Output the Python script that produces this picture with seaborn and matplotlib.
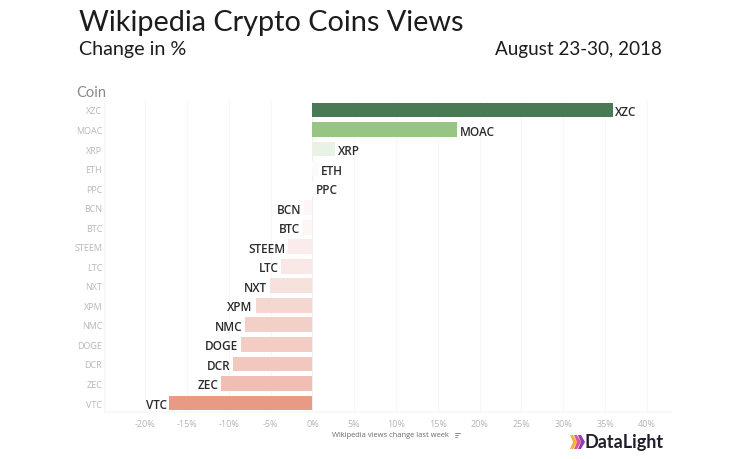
import matplotlib
matplotlib.use("Agg")
import matplotlib.pyplot as plt
from matplotlib.colors import LinearSegmentedColormap
from matplotlib.patches import Polygon
from matplotlib.lines import Line2D
import pandas as pd
import seaborn as sns

# Values
coins = ["XZC", "MOAC", "XRP", "ETH", "PPC", "BCN", "BTC", "STEEM",
         "LTC", "NXT", "XPM", "NMC", "DOGE", "DCR", "ZEC", "VTC"]
change = [35.9, 17.3, 2.7, 0.7, 0.1, -1.0, -1.1, -2.9,
          -3.7, -5.1, -6.8, -8.0, -8.5, -9.5, -10.9, -17.1]
x_ticks = list(range(-20, 45, 5))

df = pd.DataFrame({"coin": coins, "change": change})

sns.set_theme(style="white")
plt.rcParams["font.family"] = ["Lato", "DejaVu Sans"]
labels_font = ["Open Sans", "DejaVu Sans"]

# Diverging colour scale, red below zero and green above
low, high = -17.1, 35.9
def pos(v):
    return (v - low) / (high - low)

cmap = LinearSegmentedColormap.from_list("change", [
    (0.0, "#e89a85"),
    (pos(-10.9), "#f0bfb3"),
    (pos(-5.1), "#f7e2de"),
    (pos(-1.0), "#fdf6f5"),
    (pos(0), "#ffffff"),
    (pos(2.7), "#e8f2e4"),
    (pos(17.3), "#97c583"),
    (1.0, "#4a7a55"),
])
palette = {c: cmap(pos(v)) for c, v in zip(coins, change)}

fig = plt.figure(figsize=(7.36, 4.6), dpi=100)
ax = fig.add_axes([105 / 736, 1 - 413 / 460, (672 - 105) / 736, (413 - 102) / 460])

sns.barplot(data=df, x="change", y="coin", hue="coin", palette=palette,
            order=coins, legend=False, width=0.76, ax=ax, saturation=1, zorder=3,
            linewidth=0)

# Coin name at the end of each bar
for coin, value, y in zip(coins, change, range(len(coins))):
    ax.annotate(coin, (value, y), xytext=(2 if value >= 0 else -2, 0),
                textcoords="offset points", va="center_baseline",
                ha="left" if value >= 0 else "right",
                fontsize=8.5, color="#2b2b2b", zorder=4,
                family=labels_font, fontweight="semibold")

ax.set_xlim(-24.8, 43)
ax.set_ylim(15.46, -0.46)
ax.set_xticks(x_ticks)
ax.set_xticklabels([f"{t}%" for t in x_ticks])
ax.tick_params(axis="x", length=0, labelsize=6.5, labelcolor="#b4b4b4", pad=5)
ax.tick_params(axis="y", length=0, labelsize=6.5, labelcolor="#b8b8b8", pad=2)
for lab in ax.get_xticklabels() + ax.get_yticklabels():
    lab.set_family(labels_font)
ax.set_xlabel("")
ax.set_ylabel("")
ax.grid(axis="x", color="#f7f7f7", linewidth=0.8, zorder=0)
ax.axvline(0, color="#efefef", linewidth=0.8, zorder=2)
sns.despine(ax=ax, top=True, right=True, left=False, bottom=False)
ax.spines["left"].set_color("#f8f8f8")
ax.spines["bottom"].set_color("#f7f7f7")

def fx(px):
    return px / 736

def fy(px):
    return 1 - px / 460

# Titles
fig.text(fx(79), fy(23), "Wikipedia Crypto Coins Views", fontsize=20.8, color="#1c1c1c",
         va="center")
fig.text(fx(79), fy(50), "Change in %", fontsize=14.2, color="#1c1c1c", va="center")
fig.text(fx(662), fy(50), "August 23-30, 2018", fontsize=13.6, color="#1c1c1c",
         va="center", ha="right")
fig.text(fx(76), fy(93), "Coin", fontsize=10.5, color="#8a8a8a", va="center")
fig.text(fx(332), fy(436), "Wikipedia views change last week", fontsize=5.45,
         color="#6a6a6a", va="center", family=labels_font)

# Sort icon next to the axis title
for i, (x0, x1) in enumerate([(455, 460), (455, 458), (455, 457)]):
    fig.add_artist(Line2D([fx(x0), fx(x1)], [fy(434 + i * 2)] * 2, color="#777777", linewidth=0.6))

# DataLight logo
for x0, color in zip([570, 574, 578], ["#f2b33d", "#e0559a", "#8f3fb5"]):
    fig.add_artist(Polygon([(fx(x0), fy(436)), (fx(x0 + 3), fy(436)), (fx(x0 + 7), fy(443)),
                            (fx(x0 + 3), fy(450)), (fx(x0), fy(450)), (fx(x0 + 3), fy(443))],
                           closed=True, transform=fig.transFigure, color=color, lw=0))
fig.text(fx(585), fy(443), "DataLight", fontsize=13, fontweight="bold",
         color="#1f1f2b", va="center", family=["Lato", "DejaVu Sans"])

fig.savefig("out.png", dpi=100)
